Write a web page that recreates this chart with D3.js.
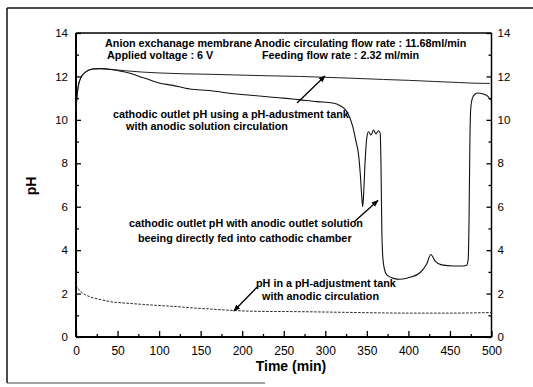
<!DOCTYPE html>
<html>
<head>
<meta charset="utf-8">
<script src="https://cdn.jsdelivr.net/npm/d3@7"></script>
<style>
body { margin: 0; background: #fff; }
svg { display: block; font-family: "Liberation Sans", Arial, sans-serif; }
</style>
</head>
<body>
<div id="chart"></div>
<script>
// cathodic outlet pH, pH-adjustment tank with anodic circulation
var tank_circ_time = [0, 1, 3, 6, 10, 15, 20, 30, 40, 60, 80, 100, 130, 160, 190, 230, 270, 300, 330, 370, 400, 430, 460, 490, 498];
var tank_circ_ph = [10.4, 11.0, 11.6, 11.95, 12.15, 12.28, 12.34, 12.36, 12.33, 12.26, 12.2, 12.16, 12.12, 12.1, 12.07, 12.03, 12.0, 11.96, 11.92, 11.86, 11.82, 11.77, 11.72, 11.68, 11.68];

// cathodic outlet pH, anodic outlet fed directly into cathodic chamber
var direct_feed_time = [0, 1, 3, 6, 10, 15, 20, 30, 40, 50, 65, 80, 90, 100, 115, 137, 160, 190, 220, 250, 270, 290, 309, 318, 326, 333, 337, 340, 342, 344, 345, 346, 348, 350, 352, 355, 358, 361, 364, 366, 367, 368, 369, 371, 374, 382, 390, 402, 414, 422, 427, 432, 440, 454, 466, 470, 472, 473, 474, 475, 477, 480, 484, 490, 496, 499];
var direct_feed_ph = [10.4, 11.0, 11.6, 11.95, 12.15, 12.28, 12.34, 12.36, 12.33, 12.27, 12.15, 11.95, 11.82, 11.7, 11.6, 11.42, 11.35, 11.2, 11.1, 11.0, 10.92, 10.84, 10.78, 10.65, 10.38, 9.7, 9.0, 8.4, 7.55, 6.4, 6.0, 6.5, 8.15, 9.2, 9.45, 9.3, 9.53, 9.35, 9.5, 9.4, 8.0, 5.0, 3.8, 3.15, 2.86, 2.7, 2.66, 2.75, 2.96, 3.36, 3.8, 3.51, 3.32, 3.27, 3.27, 3.3, 3.6, 5.5, 9.0, 10.5, 11.0, 11.18, 11.24, 11.19, 11.07, 10.9];

// pH in the pH-adjustment tank
var tank_time = [0, 3, 7, 17, 30, 41, 60, 81, 100, 121, 140, 161, 190, 220, 260, 300, 350, 400, 450, 490, 500];
var tank_ph = [2.4, 2.2, 2.05, 1.85, 1.72, 1.63, 1.56, 1.5, 1.45, 1.4, 1.34, 1.29, 1.22, 1.18, 1.17, 1.15, 1.12, 1.1, 1.1, 1.12, 1.13];

var x_ticks = [0, 50, 100, 150, 200, 250, 300, 350, 400, 450, 500];
var x_minor = [25, 75, 125, 175, 225, 275, 325, 375, 425, 475];
var y_ticks = [0, 2, 4, 6, 8, 10, 12, 14];
var y_minor = [1, 3, 5, 7, 9, 11, 13];

var svg_width = 533, svg_height = 387;
var margins = { top: 33, right: 41.5, bottom: 50, left: 76 };

var svg = d3.select("#chart").append("svg")
    .attr("width", svg_width)
    .attr("height", svg_height);

// outer frame of the scanned figure
svg.append("line").attr("x1", 7).attr("x2", 533).attr("y1", 8).attr("y2", 8)
    .attr("stroke", "#111").attr("stroke-width", 1.5);
svg.append("line").attr("x1", 7).attr("x2", 7).attr("y1", 8).attr("y2", 383)
    .attr("stroke", "#111").attr("stroke-width", 1.5);
svg.append("line").attr("x1", 7).attr("x2", 265).attr("y1", 383).attr("y2", 383)
    .attr("stroke", "#444").attr("stroke-width", 1);

var x_linearscale = d3.scaleLinear().domain([0, 500])
    .range([margins.left, svg_width - margins.right]);
var y_linearscale = d3.scaleLinear().domain([0, 14])
    .range([svg_height - margins.bottom, margins.top]);

function to_points(times, values) {
    return times.map(function(t, i) { return [t, values[i]]; });
}

var line_gen = d3.line()
    .x(d => x_linearscale(d[0]))
    .y(d => y_linearscale(d[1]))
    .curve(d3.curveMonotoneX);

// axes, ticks pointing into the plot
var bottom_axis = d3.axisBottom(x_linearscale).tickValues(x_ticks)
    .tickSizeInner(-6).tickSizeOuter(0).tickPadding(9);
var bottom_minor = d3.axisBottom(x_linearscale).tickValues(x_minor)
    .tickSizeInner(-3).tickSizeOuter(0).tickFormat("");
var left_axis = d3.axisLeft(y_linearscale).tickValues(y_ticks)
    .tickSizeInner(-5).tickSizeOuter(0).tickPadding(8);
var left_minor = d3.axisLeft(y_linearscale).tickValues(y_minor)
    .tickSizeInner(-3).tickSizeOuter(0).tickFormat("");
var right_axis = d3.axisRight(y_linearscale).tickValues(y_ticks)
    .tickSizeInner(-5).tickSizeOuter(0).tickPadding(6);
var right_minor = d3.axisRight(y_linearscale).tickValues(y_minor)
    .tickSizeInner(-3).tickSizeOuter(0).tickFormat("");

var x0 = x_linearscale(0), x1 = x_linearscale(500);
var y0 = y_linearscale(0), y1 = y_linearscale(14);

function style_axis(g, size) {
    g.selectAll("text").attr("font-size", size).attr("fill", "#000")
        .attr("font-family", "'Liberation Sans', Arial, sans-serif");
    g.selectAll("line").attr("stroke", "#000").attr("stroke-width", 1.3);
    g.select(".domain").remove();
}

svg.append("g").attr("transform", `translate(0,${y0})`).call(bottom_axis).call(style_axis, "12px");
svg.append("g").attr("transform", `translate(0,${y0})`).call(bottom_minor).call(style_axis, "12px");
svg.append("g").attr("transform", `translate(${x0},0)`).call(left_axis).call(style_axis, "11.5px");
svg.append("g").attr("transform", `translate(${x0},0)`).call(left_minor).call(style_axis, "11.5px");
svg.append("g").attr("transform", `translate(${x1},0)`).call(right_axis).call(style_axis, "11.5px");
svg.append("g").attr("transform", `translate(${x1},0)`).call(right_minor).call(style_axis, "11.5px");

// plot box
svg.append("line").attr("x1", x0).attr("x2", x1).attr("y1", y1).attr("y2", y1)
    .attr("stroke", "#000").attr("stroke-width", 1.5);
svg.append("line").attr("x1", x0).attr("x2", x1).attr("y1", y0).attr("y2", y0)
    .attr("stroke", "#000").attr("stroke-width", 2);
svg.append("line").attr("x1", x0).attr("x2", x0).attr("y1", y1).attr("y2", y0)
    .attr("stroke", "#000").attr("stroke-width", 2);
svg.append("line").attr("x1", x1).attr("x2", x1).attr("y1", y1).attr("y2", y0)
    .attr("stroke", "#000").attr("stroke-width", 1.5);

// curves
svg.append("path").datum(to_points(tank_circ_time, tank_circ_ph))
    .attr("d", line_gen).attr("fill", "none")
    .attr("stroke", "#222").attr("stroke-width", 1);
svg.append("path").datum(to_points(direct_feed_time, direct_feed_ph))
    .attr("d", line_gen).attr("fill", "none")
    .attr("stroke", "#111").attr("stroke-width", 1.1);
svg.append("path").datum(to_points(tank_time, tank_ph))
    .attr("d", line_gen).attr("fill", "none")
    .attr("stroke", "#222").attr("stroke-width", 1)
    .attr("stroke-dasharray", "2.5,1.5");

// axis titles
svg.append("text").attr("x", 291).attr("y", 371)
    .attr("text-anchor", "middle").attr("font-size", "14px").attr("font-weight", "bold")
    .text("Time (min)");
svg.append("text").attr("transform", "translate(36,186) rotate(-90)")
    .attr("text-anchor", "middle").attr("font-size", "14px").attr("font-weight", "bold")
    .text("pH");

// annotations
var notes = [
    ["Anion exchanage membrane", 105, 46.5],
    ["Applied voltage : 6 V", 107, 58.5],
    ["Anodic circulating flow rate : 11.68ml/min", 254, 46.5],
    ["Feeding flow rate : 2.32 ml/min", 262, 58.5],
    ["cathodic outlet pH using a pH-adustment tank", 113, 117.5],
    ["with anodic solution circulation", 126, 130],
    ["cathodic outlet pH with anodic outlet solution", 129, 227],
    ["beeing directly fed into cathodic chamber", 138, 241.5],
    ["pH in a pH-adjustment tank", 256, 286.5],
    ["with anodic circulation", 262, 300]
];
svg.selectAll(".note").data(notes).enter().append("text")
    .attr("class", "note")
    .attr("x", d => d[1]).attr("y", d => d[2])
    .attr("font-size", "10.8px").attr("font-weight", "bold").attr("fill", "#000")
    .text(d => d[0]);

// arrows (endpoints in data units)
var arrows = [
    [266, 10.78, 299.6, 12.02],
    [334.5, 5.3, 363.4, 6.29],
    [218, 2.3, 190, 1.2]
];
svg.append("defs").append("marker")
    .attr("id", "head").attr("viewBox", "0 0 10 10")
    .attr("refX", 9).attr("refY", 5)
    .attr("markerWidth", 7).attr("markerHeight", 7)
    .attr("markerUnits", "userSpaceOnUse")
    .attr("orient", "auto")
    .append("path").attr("d", "M0,1 L10,5 L0,9 Z").attr("fill", "#000");
svg.selectAll(".arrow").data(arrows).enter().append("line")
    .attr("class", "arrow")
    .attr("x1", d => x_linearscale(d[0])).attr("y1", d => y_linearscale(d[1]))
    .attr("x2", d => x_linearscale(d[2])).attr("y2", d => y_linearscale(d[3]))
    .attr("stroke", "#000").attr("stroke-width", 1.3)
    .attr("marker-end", "url(#head)");
</script>
</body>
</html>
